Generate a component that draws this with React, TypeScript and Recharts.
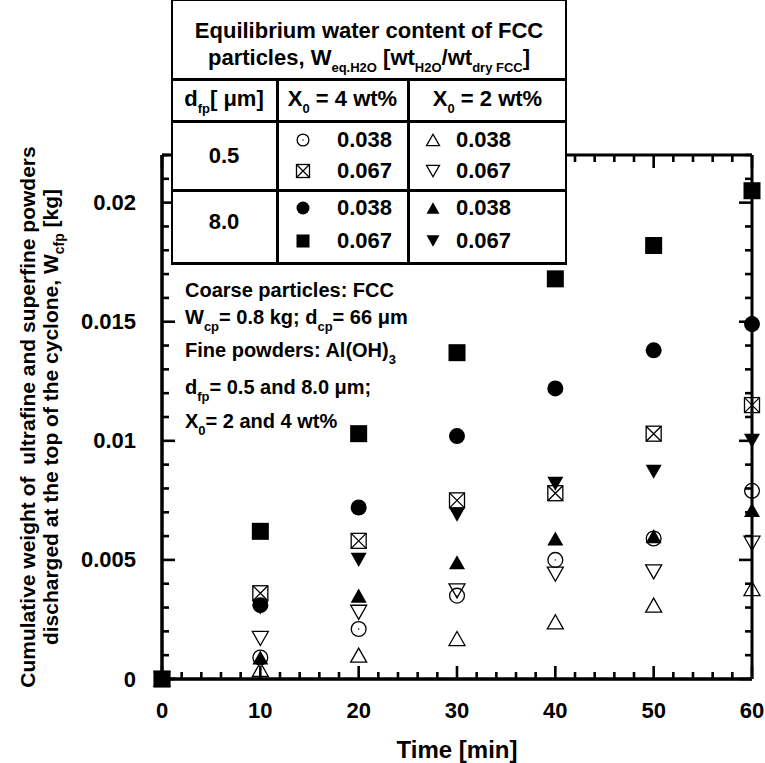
import React from "react";
import { ScatterChart, Scatter, XAxis, YAxis, ReferenceLine } from "recharts";

// time axis [min]
const times = [0, 10, 20, 30, 40, 50, 60];

// X0 = 4 wt%
const fine038x4 = [0, 0.0009, 0.0021, 0.0035, 0.005, 0.0059, 0.0079]; // d 0.5, Weq 0.038
const fine067x4 = [0, 0.0036, 0.0058, 0.0075, 0.0078, 0.0103, 0.0115]; // d 0.5, Weq 0.067
const coarse038x4 = [0, 0.0031, 0.0072, 0.0102, 0.0122, 0.0138, 0.0149]; // d 8.0, Weq 0.038
const coarse067x4 = [0, 0.0062, 0.0103, 0.0137, 0.0168, 0.0182, 0.0205]; // d 8.0, Weq 0.067

// X0 = 2 wt%
const fine038x2 = [0, 0.0004, 0.001, 0.0017, 0.0024, 0.0031, 0.0038];
const fine067x2 = [0, 0.0017, 0.0028, 0.0037, 0.0044, 0.0045, 0.0057];
const coarse038x2 = [0, 0.0009, 0.0035, 0.0049, 0.0059, 0.006, 0.0071];
const coarse067x2 = [0, 0.003, 0.005, 0.0069, 0.0082, 0.0087, 0.01];

const xMajor = [0, 10, 20, 30, 40, 50, 60];
const yMajor = [0, 0.005, 0.01, 0.015, 0.02];
const yTickLabels = ["0", "0.005", "0.01", "0.015", "0.02"];

const xTicks = Array.from({ length: 31 }, (_, i) => i * 2);
const yTicks = Array.from({ length: 23 }, (_, i) => +(i * 0.001).toFixed(3));

const W = 765;
const H = 763;
const PLOT = { left: 162, right: 752, top: 155, bottom: 679 };
const FONT = '"Liberation Sans", Arial, Helvetica, sans-serif';

type Kind = "openCircle" | "boxX" | "dot" | "square" | "openUp" | "openDown" | "up" | "down";

function marker(kind: Kind, cx: number, cy: number, s: number) {
  const h = s / 2;
  const sw = 1.3;
  const th = s * 0.88;
  const up = `${cx},${cy - th / 2} ${cx + h},${cy + th / 2} ${cx - h},${cy + th / 2}`;
  const down = `${cx - h},${cy - th / 2} ${cx + h},${cy - th / 2} ${cx},${cy + th / 2}`;
  switch (kind) {
    case "openCircle":
      return (
        <g>
          <circle cx={cx} cy={cy} r={h - 0.6} fill="none" stroke="#000" strokeWidth={sw} />
          <circle cx={cx} cy={cy} r={0.7} fill="#000" />
        </g>
      );
    case "boxX":
      return (
        <g>
          <rect x={cx - h} y={cy - h} width={s} height={s} fill="none" stroke="#000" strokeWidth={sw} />
          <path
            d={`M${cx - h},${cy - h}L${cx + h},${cy + h}M${cx + h},${cy - h}L${cx - h},${cy + h}`}
            stroke="#000"
            strokeWidth={sw}
          />
        </g>
      );
    case "dot":
      return <circle cx={cx} cy={cy} r={h} fill="#000" />;
    case "square":
      return <rect x={cx - h} y={cy - h} width={s} height={s} fill="#000" />;
    case "openUp":
      return <polygon points={up} fill="none" stroke="#000" strokeWidth={sw} />;
    case "openDown":
      return <polygon points={down} fill="none" stroke="#000" strokeWidth={sw} />;
    case "up":
      return <polygon points={up} fill="#000" />;
    default:
      return <polygon points={down} fill="#000" />;
  }
}

const series: { key: string; values: number[]; kind: Kind; size: number }[] = [
  { key: "f038x2", values: fine038x2, kind: "openUp", size: 16 },
  { key: "f067x2", values: fine067x2, kind: "openDown", size: 16 },
  { key: "f038x4", values: fine038x4, kind: "openCircle", size: 16 },
  { key: "f067x4", values: fine067x4, kind: "boxX", size: 15 },
  { key: "c038x2", values: coarse038x2, kind: "up", size: 16 },
  { key: "c067x2", values: coarse067x2, kind: "down", size: 16 },
  { key: "c038x4", values: coarse038x4, kind: "dot", size: 16 },
  { key: "c067x4", values: coarse067x4, kind: "square", size: 17 },
];

function XTick(props: any) {
  const { x, payload } = props;
  const v = payload.value;
  const major = xMajor.includes(v);
  const len = major ? 13 : 7;
  return (
    <g>
      <line x1={x} x2={x} y1={PLOT.bottom} y2={PLOT.bottom - len} stroke="#000" strokeWidth={2.6} />
      <line x1={x} x2={x} y1={PLOT.top} y2={PLOT.top + len} stroke="#000" strokeWidth={2.6} />
      {major && (
        <text x={x} y={710} textAnchor="middle" dominantBaseline="central" fontSize={22} fontWeight="bold" fontFamily={FONT} fill="#000">
          {v}
        </text>
      )}
    </g>
  );
}

function YTick(props: any) {
  const { y, payload } = props;
  const v = payload.value;
  const idx = yMajor.findIndex((m) => Math.abs(m - v) < 1e-9);
  const len = idx >= 0 ? 13 : 7;
  return (
    <g>
      <line x1={PLOT.left} x2={PLOT.left + len} y1={y} y2={y} stroke="#000" strokeWidth={2.6} />
      <line x1={PLOT.right} x2={PLOT.right - len} y1={y} y2={y} stroke="#000" strokeWidth={2.6} />
      {idx >= 0 && (
        <text x={136} y={y} textAnchor="end" dominantBaseline="central" fontSize={22} fontWeight="bold" fontFamily={FONT} fill="#000">
          {yTickLabels[idx]}
        </text>
      )}
    </g>
  );
}

const Sub = ({ children, size = 13, top = 7 }: { children: React.ReactNode; size?: number; top?: number }) => (
  <span style={{ fontSize: size, position: "relative", top }}>{children}</span>
);

function Mark({ kind, size = 13 }: { kind: Kind; size?: number }) {
  return (
    <svg width={18} height={18} style={{ position: "absolute", left: -9, top: -9 }}>
      {marker(kind, 9, 9, size)}
    </svg>
  );
}

const abs = (left: number, top: number, extra: React.CSSProperties = {}): React.CSSProperties => ({
  position: "absolute",
  left,
  top,
  whiteSpace: "nowrap",
  ...extra,
});

// a text line centred vertically at cy
function Line({ x, cy, size = 22, width, children }: { x: number; cy: number; size?: number; width?: number; children: React.ReactNode }) {
  return (
    <div
      style={abs(x, cy - size * 0.6, {
        fontSize: size,
        lineHeight: `${size * 1.2}px`,
        width,
        textAlign: width ? "center" : "left",
      })}
    >
      {children}
    </div>
  );
}

const TL = 171;
const TR = 567;
const TB = 265;
const C1 = 277;
const C2 = 408;

function Table() {
  const h = (y: number, t = 3) => (
    <div style={abs(TL, y - t / 2, { width: TR - TL, height: t, background: "#000" })} />
  );
  const v = (x: number, t = 3) => (
    <div style={abs(x - t / 2, 79, { width: t, height: TB - 79, background: "#000" })} />
  );
  const cell = (mx: number, tx: number, cy: number, kind: Kind, txt: string) => (
    <>
      <div style={abs(mx, cy)}>
        <Mark kind={kind} />
      </div>
      <Line x={tx} cy={cy}>{txt}</Line>
    </>
  );
  return (
    <>
      <div
        style={abs(TL, 0, {
          width: TR - TL,
          height: TB,
          background: "#fff",
          boxSizing: "border-box",
          borderLeft: "2px solid #000",
          borderRight: "2px solid #000",
          borderTop: "1.5px solid #000",
        })}
      />
      {h(79)}
      {h(121)}
      {h(190)}
      {h(TB - 1.5)}
      {v(C1)}
      {v(C2)}
      <Line x={TL} cy={31} width={TR - TL}>Equilibrium water content of FCC</Line>
      <Line x={TL} cy={58} width={TR - TL}>
        particles, W<Sub>eq.H2O</Sub> [wt<Sub>H2O</Sub>/wt<Sub>dry FCC</Sub>]
      </Line>
      <Line x={TL} cy={99} width={C1 - TL}>
        d<Sub>fp</Sub>[ μm]
      </Line>
      <Line x={C1} cy={99} width={C2 - C1}>
        X<Sub>0</Sub> = 4 wt%
      </Line>
      <Line x={C2} cy={99} width={TR - C2}>
        X<Sub>0</Sub> = 2 wt%
      </Line>
      <Line x={TL} cy={156} width={C1 - TL}>0.5</Line>
      <Line x={TL} cy={222} width={C1 - TL}>8.0</Line>
      {cell(303, 337, 140, "openCircle", "0.038")}
      {cell(303, 337, 171, "boxX", "0.067")}
      {cell(303, 337, 208, "dot", "0.038")}
      {cell(303, 337, 241, "square", "0.067")}
      {cell(433, 456, 140, "openUp", "0.038")}
      {cell(433, 456, 171, "openDown", "0.067")}
      {cell(433, 456, 208, "up", "0.038")}
      {cell(433, 456, 241, "down", "0.067")}
    </>
  );
}

function Notes() {
  const x = 185;
  return (
    <>
      <Line x={x} cy={290} size={20}>Coarse particles: FCC</Line>
      <Line x={x} cy={317} size={20}>
        W<Sub>cp</Sub>= 0.8 kg; d<Sub>cp</Sub>= 66 μm
      </Line>
      <Line x={x} cy={350} size={20}>
        Fine powders: Al(OH)<Sub>3</Sub>
      </Line>
      <Line x={x} cy={387} size={20}>
        d<Sub>fp</Sub>= 0.5 and 8.0 μm;
      </Line>
      <Line x={x} cy={421} size={20}>
        X<Sub>0</Sub>= 2 and 4 wt%
      </Line>
    </>
  );
}

export default function App() {
  const midY = (PLOT.top + PLOT.bottom) / 2;
  return (
    <div style={{ position: "absolute", left: 0, top: 0, width: W, height: H, background: "#fff", fontFamily: FONT, fontWeight: "bold", color: "#000", overflow: "hidden" }}>
      <ScatterChart width={W} height={H} margin={{ top: PLOT.top, right: W - PLOT.right, left: 0, bottom: 0 }}>
        <XAxis
          type="number"
          dataKey="t"
          domain={[0, 60]}
          ticks={xTicks}
          interval={0}
          height={H - PLOT.bottom}
          tickLine={false}
          axisLine={{ stroke: "#000", strokeWidth: 3 }}
          tick={<XTick />}
        />
        <YAxis
          type="number"
          dataKey="w"
          domain={[0, 0.022]}
          ticks={yTicks}
          interval={0}
          width={PLOT.left}
          tickLine={false}
          axisLine={{ stroke: "#000", strokeWidth: 3 }}
          tick={<YTick />}
        />
        {/* plot frame */}
        <ReferenceLine y={0} stroke="#000" strokeWidth={3} />
        <ReferenceLine x={0} stroke="#000" strokeWidth={3} />
        <ReferenceLine y={0.022} stroke="#000" strokeWidth={3} />
        <ReferenceLine x={60} stroke="#000" strokeWidth={3} />
        {series.map((s) => (
          <Scatter
            key={s.key}
            data={times.map((t, i) => ({ t, w: s.values[i] }))}
            isAnimationActive={false}
            shape={(p: any) => marker(s.kind, p.cx, p.cy, s.size)}
          />
        ))}
      </ScatterChart>
      <div
        style={abs(27, midY, {
          fontSize: 21,
          transform: "translate(-50%, -50%) rotate(-90deg)",
          lineHeight: "25px",
        })}
      >
        Cumulative weight of&nbsp; ultrafine and superfine powders
      </div>
      <div
        style={abs(52, midY, {
          fontSize: 21,
          transform: "translate(-50%, -50%) rotate(-90deg)",
          lineHeight: "25px",
        })}
      >
        discharged at the top of the cyclone, W<Sub size={14} top={6}>cfp</Sub> [kg]
      </div>
      <div style={abs(PLOT.left, 750 - 14, { width: PLOT.right - PLOT.left, textAlign: "center", fontSize: 24, lineHeight: "28px" })}>
        Time [min]
      </div>
      <Table />
      <Notes />
    </div>
  );
}
